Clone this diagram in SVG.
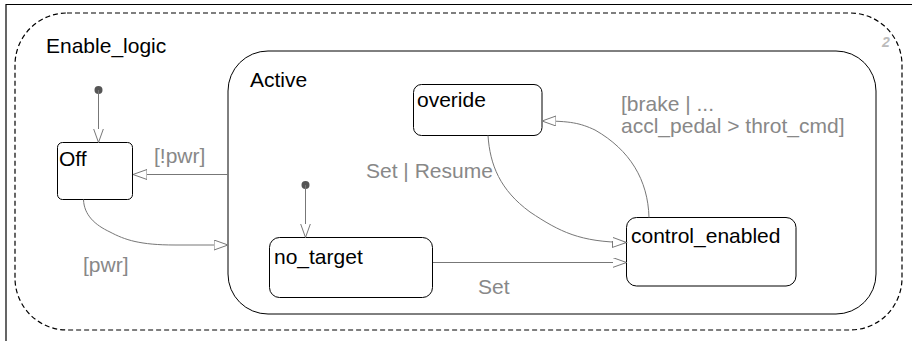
<svg xmlns="http://www.w3.org/2000/svg" width="912" height="341" viewBox="0 0 912 341">
<defs>
<style>
.st{fill:#fff;stroke:#000;stroke-width:1}
.lbl{font-family:"Liberation Sans",Arial,sans-serif;font-size:21px;fill:#000}
.glbl{font-family:"Liberation Sans",Arial,sans-serif;font-size:21px;fill:#888}
.tr{fill:none;stroke:#777;stroke-width:1;marker-end:url(#arr)}
.dot{fill:#555}
</style>
<marker id="arr" markerUnits="userSpaceOnUse" markerWidth="16" markerHeight="12" refX="14" refY="5" orient="auto">
<path d="M0,0 L14,5 L0,10 Z" fill="#fff" stroke="#777" stroke-width="1"/>
</marker>
</defs>
<rect width="912" height="341" fill="#fff"/>
<path d="M6,341 L6,4.5 L912,4.5" fill="none" stroke="#000" stroke-width="1.2"/>
<g id="Enable_logic">
<rect x="15" y="13" width="887" height="317" rx="52" ry="52" fill="none" stroke="#000" stroke-width="1.2" stroke-dasharray="5,3"/>
<text class="lbl" x="46" y="53">Enable_logic</text>
<text x="882" y="47" font-family="Liberation Sans,Arial,sans-serif" font-size="14" font-weight="bold" font-style="italic" fill="#bbb">2</text>
</g>
<g id="Active">
<rect class="st" x="228" y="51" width="648" height="263" rx="40" ry="40"/>
<text class="lbl" x="250" y="87">Active</text>
</g>
<g id="Off">
<rect class="st" x="57.5" y="142.5" width="75" height="57" rx="5" ry="5"/>
<text class="lbl" x="59" y="166">Off</text>
</g>
<g id="overide">
<rect class="st" x="413.5" y="84.5" width="128.5" height="51" rx="8" ry="8"/>
<text class="lbl" x="417" y="107">overide</text>
</g>
<g id="no_target">
<rect class="st" x="269.5" y="237.5" width="163" height="60" rx="10" ry="10"/>
<text class="lbl" x="274" y="264">no_target</text>
</g>
<g id="control_enabled">
<rect class="st" x="626.5" y="217.5" width="169.5" height="68.5" rx="10" ry="10"/>
<text class="lbl" x="631" y="243">control_enabled</text>
</g>
<g id="connectors">
<circle class="dot" cx="98.5" cy="90" r="4"/>
<path class="tr" d="M98.5,90 L98.5,142.5"/>
<circle class="dot" cx="305.5" cy="185" r="4"/>
<path class="tr" d="M305.5,185 L305.5,237.5"/>
<path class="tr" d="M228,174.5 L133,174.5"/>
<text class="glbl" x="154" y="163">[!pwr]</text>
<path class="tr" d="M83.5,199.5 C84,215 95,225 110,232 C125,240 140,245 175,245 L228,245"/>
<text class="glbl" x="83" y="272">[pwr]</text>
<path class="tr" d="M433,262.5 L626.5,262.5"/>
<text class="glbl" x="478" y="294">Set</text>
<path class="tr" d="M488,135.5 C490,165 500,190 530,212 C560,232 580,242 626.5,242.5"/>
<text class="glbl" x="366" y="178">Set | Resume</text>
<path class="tr" d="M649,217.5 C648,180 630,150 595,130 C580,123 570,121 542,121"/>
<text class="glbl" x="621" y="111">[brake | ...</text>
<text class="glbl" x="621" y="133">accl_pedal &gt; throt_cmd]</text>
</g>
</svg>
